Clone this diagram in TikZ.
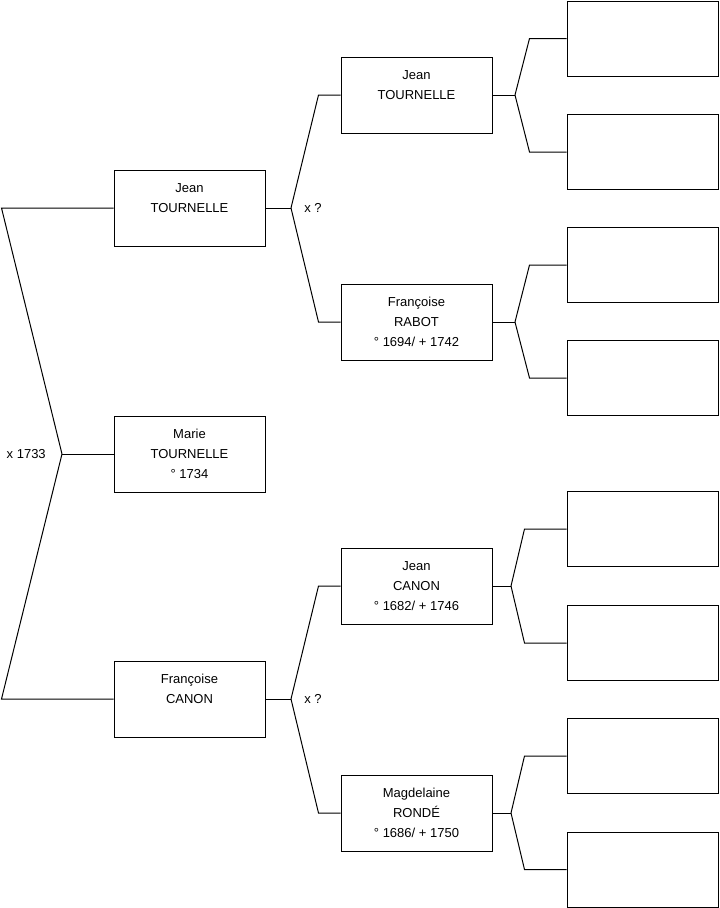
\documentclass[tikz,border=0pt]{standalone}
\usepackage{fontspec}
\setmainfont{Liberation Sans}
\usetikzlibrary{positioning}

\begin{document}
\begin{tikzpicture}[x=0.75pt, y=-0.75pt,
  person/.style={draw, line width=0.75pt, minimum width=113.25pt, minimum height=57pt,
    align=center, inner sep=0pt, font=\fontsize{9.75}{15}\selectfont},
  empty/.style={person, minimum height=56.25pt},
  link/.style={line width=0.75pt},
  union/.style={inner sep=0pt, font=\fontsize{9.75}{12}\selectfont}]

  \useasboundingbox (0,0) rectangle (719,908);

  % generation 1 and 2
  \node[person] (jt)  at (189.5,208) {Jean\\TOURNELLE\\\mbox{}};
  \node[person] (mt)  at (189.5,454) {Marie\\TOURNELLE\\° 1734};
  \node[person] (fc)  at (189.5,699) {Françoise\\CANON\\\mbox{}};

  % generation 3
  \node[person] (jt2) at (416.5,95)  {Jean\\TOURNELLE\\\mbox{}};
  \node[person] (fr)  at (416.5,322) {Françoise\\RABOT\\° 1694/ + 1742};
  \node[person] (jc)  at (416.5,586) {Jean\\CANON\\° 1682/ + 1746};
  \node[person] (mr)  at (416.5,813) {Magdelaine\\RONDÉ\\° 1686/ + 1750};

  % generation 4 (unknown)
  \node[empty] (e1) at (642.5,38.5) {};
  \node[empty] (e2) at (642.5,152)  {};
  \node[empty] (e3) at (642.5,265)  {};
  \node[empty] (e4) at (642.5,378)  {};
  \node[empty] (e5) at (642.5,529)  {};
  \node[empty] (e6) at (642.5,643)  {};
  \node[empty] (e7) at (642.5,756)  {};
  \node[empty] (e8) at (642.5,869.5) {};

  % marriages
  \coordinate (m0) at (62,454);
  \coordinate (m1) at (291,208);
  \coordinate (m2) at (291,699);
  \coordinate (m3) at (515,95);
  \coordinate (m4) at (515,322);
  \coordinate (m5) at (511,586);
  \coordinate (m6) at (511,813);

  \node[union, left=12pt of m0] (u0) {x 1733};
  \node[union, right=9.75pt of m1] (u1) {x ?};
  \node[union, right=9.75pt of m2] (u2) {x ?};

  \draw[link] (mt.west) -- (m0);
  \draw[link] (m0) -- ([xshift=-84pt]jt.west) -- (jt.west);
  \draw[link] (m0) -- ([xshift=-84pt]fc.west) -- (fc.west);

  \draw[link] (jt.east) -- (m1);
  \draw[link] (m1) -- ([xshift=-16.5pt]jt2.west) -- (jt2.west);
  \draw[link] (m1) -- ([xshift=-16.5pt]fr.west) -- (fr.west);

  \draw[link] (fc.east) -- (m2);
  \draw[link] (m2) -- ([xshift=-16.5pt]jc.west) -- (jc.west);
  \draw[link] (m2) -- ([xshift=-16.5pt]mr.west) -- (mr.west);

  \draw[link] (jt2.east) -- (m3);
  \draw[link] (m3) -- ([xshift=-27.75pt]e1.west) -- (e1.west);
  \draw[link] (m3) -- ([xshift=-27.75pt]e2.west) -- (e2.west);

  \draw[link] (fr.east) -- (m4);
  \draw[link] (m4) -- ([xshift=-27.75pt]e3.west) -- (e3.west);
  \draw[link] (m4) -- ([xshift=-27.75pt]e4.west) -- (e4.west);

  \draw[link] (jc.east) -- (m5);
  \draw[link] (m5) -- ([xshift=-31.5pt]e5.west) -- (e5.west);
  \draw[link] (m5) -- ([xshift=-31.5pt]e6.west) -- (e6.west);

  \draw[link] (mr.east) -- (m6);
  \draw[link] (m6) -- ([xshift=-31.5pt]e7.west) -- (e7.west);
  \draw[link] (m6) -- ([xshift=-31.5pt]e8.west) -- (e8.west);
\end{tikzpicture}
\end{document}
